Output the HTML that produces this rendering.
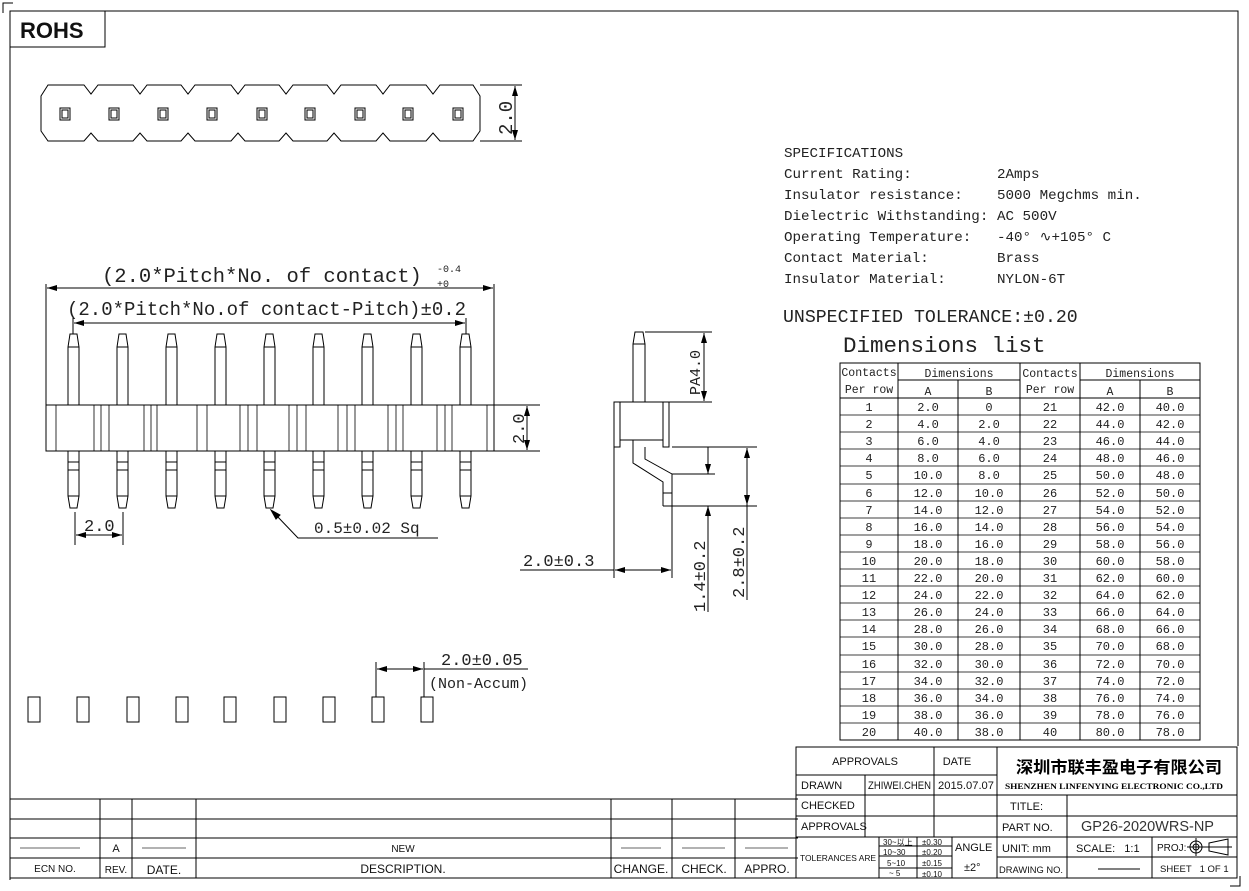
<!DOCTYPE html>
<html><head><meta charset="utf-8"><style>
html,body{margin:0;padding:0;background:#fff;}
svg{display:block;}
.m{font-family:"Liberation Mono","DejaVu Sans Mono",monospace;fill:#222;}
.s{font-family:"Liberation Sans",Arial,sans-serif;fill:#111;}
</style></head><body>
<svg width="1249" height="891" viewBox="0 0 1249 891" xmlns="http://www.w3.org/2000/svg">
<defs>
<marker id="a" viewBox="0 0 10 6" refX="10" refY="3" markerWidth="10" markerHeight="6" orient="auto-start-reverse" markerUnits="userSpaceOnUse"><path d="M0,0 L10,3 L0,6 z" fill="#000"/></marker>
</defs>
<g fill="none" stroke="#000" stroke-width="1">
<path d="M3,13 V3 H13"/>
<path d="M1230,886 H1240 V876"/>
<path d="M10,880 V11 H1238 V746"/>
<rect x="10" y="11" width="95" height="36"/>
<path d="M48,85 H84 L91,94 L98,85 H133 L140,94 L147,85 H181 L188,94 L195,85 H231 L238,94 L245,85 H279 L286,94 L293,85 H327 L334,94 L341,85 H376 L383,94 L390,85 H426 L433,94 L440,85 H473 L480,96 V131 L473,141 H440 L433,133 L426,141 H390 L383,133 L376,141 H341 L334,133 L327,141 H293 L286,133 L279,141 H245 L238,133 L231,141 H195 L188,133 L181,141 H147 L140,133 L133,141 H98 L91,133 L84,141 H48 L41,131 V96 Z"/>
<g>
<rect x="60" y="108" width="10" height="12"/><rect x="62" y="110" width="6" height="8"/>
<rect x="109" y="108" width="10" height="12"/><rect x="111" y="110" width="6" height="8"/>
<rect x="158" y="108" width="10" height="12"/><rect x="160" y="110" width="6" height="8"/>
<rect x="207" y="108" width="10" height="12"/><rect x="209" y="110" width="6" height="8"/>
<rect x="257" y="108" width="10" height="12"/><rect x="259" y="110" width="6" height="8"/>
<rect x="305" y="108" width="10" height="12"/><rect x="307" y="110" width="6" height="8"/>
<rect x="355" y="108" width="10" height="12"/><rect x="357" y="110" width="6" height="8"/>
<rect x="403" y="108" width="10" height="12"/><rect x="405" y="110" width="6" height="8"/>
<rect x="453" y="108" width="10" height="12"/><rect x="455" y="110" width="6" height="8"/>
</g>
<path d="M480,85 H522 M480,141 H522"/>
<line x1="515" y1="86" x2="515" y2="140" marker-start="url(#a)" marker-end="url(#a)"/>

<rect x="46" y="405" width="448" height="46"/>
<path d="M56,405V451 M94,405V451 M101,405V451 M109,405V451 M144,405V451 M151,405V451 M157,405V451 M197,405V451 M207,405V451 M240,405V451 M248,405V451 M257,405V451 M289,405V451 M297,405V451 M306,405V451 M338,405V451 M347,405V451 M355,405V451 M388,405V451 M396,405V451 M403,405V451 M437,405V451 M445,405V451 M452,405V451 M487,405V451" stroke-width="0.8"/>
<g id="pin">
<path d="M68,405 V347 L70,334 H77 L79,347 V405 M68,347 H79"/>
<path d="M68,451 V496 L70,508 H77 L79,496 V451 M68,462 H79 M68,470 H79 M68,496 H79"/>
</g>
<use href="#pin" x="49"/><use href="#pin" x="98"/><use href="#pin" x="147"/><use href="#pin" x="196"/><use href="#pin" x="245"/><use href="#pin" x="294"/><use href="#pin" x="343"/><use href="#pin" x="392"/>
<path d="M46,405 V284 M494,405 V284"/>
<line x1="47" y1="288" x2="493" y2="288" marker-start="url(#a)" marker-end="url(#a)"/>
<path d="M73,334 V318 M466,334 V318"/>
<line x1="74" y1="323" x2="465" y2="323" marker-start="url(#a)" marker-end="url(#a)"/>
<path d="M494,405 H540 M494,451 H540"/>
<line x1="527" y1="406" x2="527" y2="450" marker-start="url(#a)" marker-end="url(#a)"/>
<path d="M75,512 V545 M123,512 V545"/>
<line x1="76" y1="535" x2="122" y2="535" marker-start="url(#a)" marker-end="url(#a)"/>
<path d="M438,538 H298 L276,515"/>
<path d="M271,510 L280,515 L276,519 Z" fill="#000"/>

<path d="M633,402 V344 L635,332 H643 L645,344 V402 M633,344 H645"/>
<path d="M614,402 H669 V447 H663 V440 H620 V447 H614 Z M620,402 V440 M663,402 V440"/>
<path d="M633,440 V463 L663,482 V506 M645,447 V459 L672,474 V506 M663,493 H672 M663,506 H672"/>
<path d="M645,332 H712 M669,402 H712"/>
<line x1="704" y1="333" x2="704" y2="401" marker-start="url(#a)" marker-end="url(#a)"/>
<path d="M672,447 H757 M672,474 H715 M672,506 H757"/>
<path d="M708,447 V474" marker-end="url(#a)"/>
<path d="M708,612 V506" marker-end="url(#a)"/>
<line x1="747" y1="448" x2="747" y2="505" marker-start="url(#a)" marker-end="url(#a)"/>
<path d="M747,505 V600"/>
<path d="M614,447 V578 M672,506 V578 M520,570 H614"/>
<line x1="615" y1="570" x2="671" y2="570" marker-start="url(#a)" marker-end="url(#a)"/>

<rect x="28" y="697" width="12" height="25"/><rect x="77" y="697" width="12" height="25"/><rect x="127" y="697" width="12" height="25"/><rect x="176" y="697" width="12" height="25"/><rect x="224" y="697" width="12" height="25"/><rect x="274" y="697" width="12" height="25"/><rect x="323" y="697" width="12" height="25"/><rect x="372" y="697" width="12" height="25"/><rect x="421" y="697" width="12" height="25"/>
<path d="M376,697 V662 M424,697 V662 M424,669 H528"/>
<line x1="377" y1="669" x2="423" y2="669" marker-start="url(#a)" marker-end="url(#a)"/>

<path d="M840,363 H1200 V740 H840 Z M898,380 H1020 M1080,380 H1200 M840,398 H1200"/>
<path d="M898,363 V740 M958,380 V740 M1020,363 V740 M1080,363 V740 M1140,380 V740"/>
<path d="M840,415H1200M840,432H1200M840,449H1200M840,466H1200M840,484H1200M840,501H1200M840,518H1200M840,535H1200M840,552H1200M840,569H1200M840,586H1200M840,603H1200M840,620H1200M840,637H1200M840,655H1200M840,672H1200M840,689H1200M840,706H1200M840,723H1200" stroke-width="0.8"/>

<path d="M10,799 H798 M10,819 H798 M10,838 H798 M10,858 H798 M10,878 H798"/>
<path d="M100,799V878 M132,799V878 M196,799V878 M611,799V878 M672,799V878 M735,799V878"/>
<path d="M20,848H80 M142,848H186 M621,848H661 M682,848H725 M745,848H788" stroke="#666"/>

<rect x="796" y="747" width="441" height="131"/>
<path d="M796,775 H997 M796,795 H1237 M796,816 H1237 M796,837 H1237 M997,857 H1237"/>
<path d="M934,747 V837 M865,775 V837 M997,747 V878 M1067,795 V878 M1152,837 V878"/>
<path d="M879,837 V878 M917,837 V878 M952,837 V878 M879,846 H952 M879,856 H952 M879,868 H952"/>
<path d="M1098,869 H1140"/>
<circle cx="1196" cy="847" r="6"/><circle cx="1196" cy="847" r="3"/>
<path d="M1187,847 H1205 M1196,838 V856 M1209,843 L1228,839 V855 L1209,851 Z M1205,847 H1232"/>
</g>

<text x="20" y="38" class="s" font-size="22" font-weight="bold" fill="#000">ROHS</text>
<text class="m" font-size="19" transform="translate(512,135) rotate(-90)">2.0</text>
<text x="102" y="282" class="m" font-size="20.5">(2.0*Pitch*No. of contact)</text>
<text x="437" y="272" class="m" font-size="10">-0.4</text>
<text x="437" y="287" class="m" font-size="10">+0</text>
<text x="67" y="315" class="m" font-size="19">(2.0*Pitch*No.of contact-Pitch)±0.2</text>
<text class="m" font-size="17" transform="translate(524,444) rotate(-90)">2.0</text>
<text x="84" y="531" class="m" font-size="17">2.0</text>
<text x="314" y="533" class="m" font-size="16">0.5±0.02 Sq</text>
<text class="m" font-size="15" transform="translate(700,395) rotate(-90)">PA4.0</text>
<text class="m" font-size="17" transform="translate(705,612) rotate(-90)">1.4±0.2</text>
<text class="m" font-size="17" transform="translate(744,598) rotate(-90)">2.8±0.2</text>
<text x="523" y="566" class="m" font-size="17">2.0±0.3</text>
<text x="441" y="665" class="m" font-size="17">2.0±0.05</text>
<text x="429" y="688" class="m" font-size="15">(Non-Accum)</text>

<g class="m" font-size="14.2">
<text x="784" y="157">SPECIFICATIONS</text>
<text x="784" y="178">Current Rating:</text><text x="997" y="178">2Amps</text>
<text x="784" y="199">Insulator resistance:</text><text x="997" y="199">5000 Megchms min.</text>
<text x="784" y="220">Dielectric Withstanding:</text><text x="997" y="220">AC 500V</text>
<text x="784" y="241">Operating Temperature:</text><text x="997" y="241">-40° ∿+105° C</text>
<text x="784" y="262">Contact Material:</text><text x="997" y="262">Brass</text>
<text x="784" y="283">Insulator Material:</text><text x="997" y="283">NYLON-6T</text>
</g>
<text x="783" y="322" class="m" font-size="18.2">UNSPECIFIED TOLERANCE:±0.20</text>
<text x="843" y="352" class="m" font-size="22.5">Dimensions list</text>

<g class="m" font-size="11.5" text-anchor="middle">
<text x="869" y="376">Contacts</text><text x="869" y="393">Per row</text>
<text x="959" y="377">Dimensions</text><text x="928" y="395">A</text><text x="989" y="395">B</text>
<text x="1050" y="377">Contacts</text><text x="1050" y="393">Per row</text>
<text x="1140" y="377">Dimensions</text><text x="1110" y="395">A</text><text x="1170" y="395">B</text>
</g>
<g class="m" font-size="12" text-anchor="middle">
<g transform="translate(0,411)"><text x="869">1</text><text x="928">2.0</text><text x="989">0</text><text x="1050">21</text><text x="1110">42.0</text><text x="1170">40.0</text></g>
<g transform="translate(0,428)"><text x="869">2</text><text x="928">4.0</text><text x="989">2.0</text><text x="1050">22</text><text x="1110">44.0</text><text x="1170">42.0</text></g>
<g transform="translate(0,445)"><text x="869">3</text><text x="928">6.0</text><text x="989">4.0</text><text x="1050">23</text><text x="1110">46.0</text><text x="1170">44.0</text></g>
<g transform="translate(0,462)"><text x="869">4</text><text x="928">8.0</text><text x="989">6.0</text><text x="1050">24</text><text x="1110">48.0</text><text x="1170">46.0</text></g>
<g transform="translate(0,479)"><text x="869">5</text><text x="928">10.0</text><text x="989">8.0</text><text x="1050">25</text><text x="1110">50.0</text><text x="1170">48.0</text></g>
<g transform="translate(0,497)"><text x="869">6</text><text x="928">12.0</text><text x="989">10.0</text><text x="1050">26</text><text x="1110">52.0</text><text x="1170">50.0</text></g>
<g transform="translate(0,514)"><text x="869">7</text><text x="928">14.0</text><text x="989">12.0</text><text x="1050">27</text><text x="1110">54.0</text><text x="1170">52.0</text></g>
<g transform="translate(0,531)"><text x="869">8</text><text x="928">16.0</text><text x="989">14.0</text><text x="1050">28</text><text x="1110">56.0</text><text x="1170">54.0</text></g>
<g transform="translate(0,548)"><text x="869">9</text><text x="928">18.0</text><text x="989">16.0</text><text x="1050">29</text><text x="1110">58.0</text><text x="1170">56.0</text></g>
<g transform="translate(0,565)"><text x="869">10</text><text x="928">20.0</text><text x="989">18.0</text><text x="1050">30</text><text x="1110">60.0</text><text x="1170">58.0</text></g>
<g transform="translate(0,582)"><text x="869">11</text><text x="928">22.0</text><text x="989">20.0</text><text x="1050">31</text><text x="1110">62.0</text><text x="1170">60.0</text></g>
<g transform="translate(0,599)"><text x="869">12</text><text x="928">24.0</text><text x="989">22.0</text><text x="1050">32</text><text x="1110">64.0</text><text x="1170">62.0</text></g>
<g transform="translate(0,616)"><text x="869">13</text><text x="928">26.0</text><text x="989">24.0</text><text x="1050">33</text><text x="1110">66.0</text><text x="1170">64.0</text></g>
<g transform="translate(0,633)"><text x="869">14</text><text x="928">28.0</text><text x="989">26.0</text><text x="1050">34</text><text x="1110">68.0</text><text x="1170">66.0</text></g>
<g transform="translate(0,650)"><text x="869">15</text><text x="928">30.0</text><text x="989">28.0</text><text x="1050">35</text><text x="1110">70.0</text><text x="1170">68.0</text></g>
<g transform="translate(0,668)"><text x="869">16</text><text x="928">32.0</text><text x="989">30.0</text><text x="1050">36</text><text x="1110">72.0</text><text x="1170">70.0</text></g>
<g transform="translate(0,685)"><text x="869">17</text><text x="928">34.0</text><text x="989">32.0</text><text x="1050">37</text><text x="1110">74.0</text><text x="1170">72.0</text></g>
<g transform="translate(0,702)"><text x="869">18</text><text x="928">36.0</text><text x="989">34.0</text><text x="1050">38</text><text x="1110">76.0</text><text x="1170">74.0</text></g>
<g transform="translate(0,719)"><text x="869">19</text><text x="928">38.0</text><text x="989">36.0</text><text x="1050">39</text><text x="1110">78.0</text><text x="1170">76.0</text></g>
<g transform="translate(0,736)"><text x="869">20</text><text x="928">40.0</text><text x="989">38.0</text><text x="1050">40</text><text x="1110">80.0</text><text x="1170">78.0</text></g>
</g>

<g class="s" font-size="11" text-anchor="middle">
<text x="116" y="852">A</text>
<text x="403" y="852" font-size="10">NEW</text>
<text x="55" y="872" font-size="10">ECN NO.</text>
<text x="116" y="873" font-size="10">REV.</text>
<text x="164" y="874" font-size="12">DATE.</text>
<text x="403" y="873" font-size="12">DESCRIPTION.</text>
<text x="641" y="873" font-size="12">CHANGE.</text>
<text x="704" y="873" font-size="12">CHECK.</text>
<text x="767" y="873" font-size="12">APPRO.</text>
<text x="865" y="765">APPROVALS</text>
<text x="957" y="765">DATE</text>
</g>
<g class="s" font-size="11">
<text x="801" y="789">DRAWN</text>
<text x="868" y="789" textLength="63" lengthAdjust="spacingAndGlyphs">ZHIWEI.CHEN</text>
<text x="938" y="789" textLength="56" lengthAdjust="spacingAndGlyphs">2015.07.07</text>
<text x="801" y="809">CHECKED</text>
<text x="801" y="830">APPROVALS</text>
<text x="800" y="861" font-size="8.5" textLength="76" lengthAdjust="spacingAndGlyphs">TOLERANCES ARE</text>
<text x="883" y="845" font-size="8">30~以上</text>
<text x="922" y="845" font-size="8">±0.30</text>
<text x="883" y="855" font-size="8">10~30</text>
<text x="922" y="855" font-size="8">±0.20</text>
<text x="887" y="866" font-size="8">5~10</text>
<text x="922" y="866" font-size="8">±0.15</text>
<text x="889" y="876" font-size="8">~ 5</text>
<text x="922" y="877" font-size="8">±0.10</text>
<text x="955" y="851">ANGLE</text>
<text x="964" y="871">±2°</text>
<text x="1010" y="810">TITLE:</text>
<text x="1002" y="831">PART NO.</text>
<text x="1002" y="852">UNIT: mm</text>
<text x="999" y="873" font-size="9.5" textLength="64" lengthAdjust="spacingAndGlyphs">DRAWING NO.</text>
<text x="1076" y="852">SCALE:&#160;&#160;&#160;1:1</text>
<text x="1157" y="851" font-size="10">PROJ:</text>
<text x="1160" y="872" font-size="9.5">SHEET&#160;&#160;&#160;1 OF 1</text>
<text x="1081" y="831" font-size="14.5" fill="#333">GP26-2020WRS-NP</text>
</g>
<text x="1016" y="773" font-family="'Noto Sans CJK SC','WenQuanYi Zen Hei',sans-serif" font-size="16.5" font-weight="bold" fill="#000" textLength="206" lengthAdjust="spacingAndGlyphs">深圳市联丰盈电子有限公司</text>
<text x="1005" y="789" font-family="'Liberation Serif',serif" font-size="8.6" font-weight="bold" fill="#000" textLength="218" lengthAdjust="spacingAndGlyphs">SHENZHEN LINFENYING ELECTRONIC CO.,LTD</text>
</svg>
</body></html>
